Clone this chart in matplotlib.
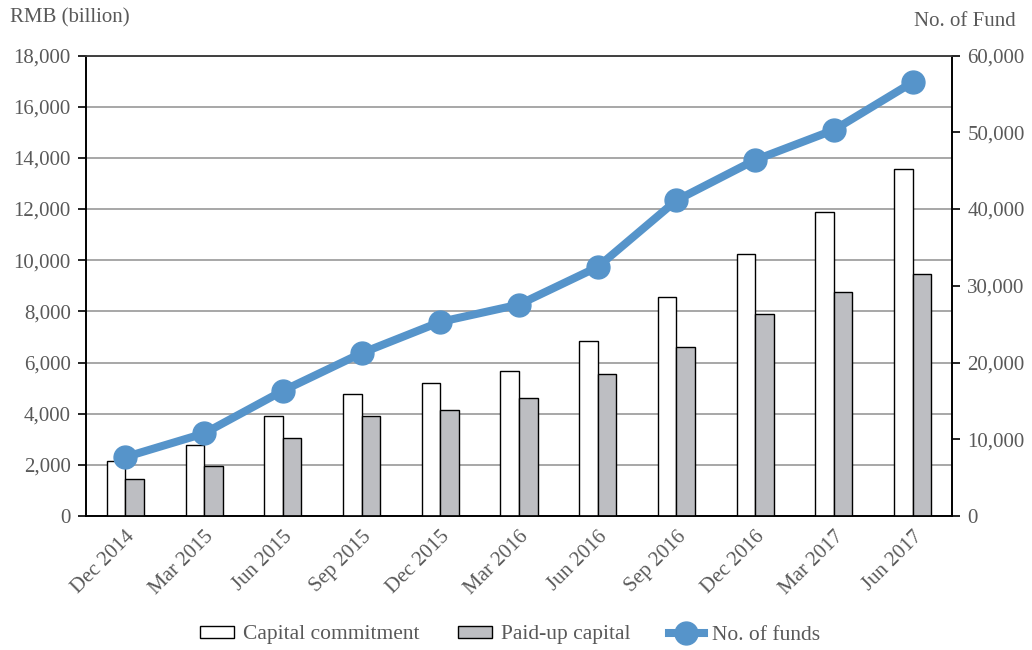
import matplotlib
matplotlib.use("Agg")
import matplotlib.pyplot as plt
import numpy as np
from matplotlib.ticker import FuncFormatter

categories = ["Dec 2014", "Mar 2015", "Jun 2015", "Sep 2015", "Dec 2015", "Mar 2016",
              "Jun 2016", "Sep 2016", "Dec 2016", "Mar 2017", "Jun 2017"]
capital_commitment = [2140, 2780, 3900, 4760, 5200, 5680, 6850, 8550, 10230, 11890, 13570]
paid_up_capital = [1460, 1970, 3030, 3900, 4140, 4600, 5570, 6620, 7900, 8760, 9470]
no_of_funds = [7680, 10760, 16310, 21220, 25290, 27550, 32450, 41130, 46390, 50300, 56510]

plt.rcParams['font.family'] = ['Liberation Serif', 'DejaVu Serif']
text_color = '#595959'
fs = 15

fig = plt.figure(figsize=(10.32, 6.5), dpi=100)
ax = fig.add_axes([86/1032, 1-516/650, (952-86)/1032, (516-55.5)/650])
ax2 = ax.twinx()

x = np.arange(len(categories))
w = 0.235
ax.bar(x - w/2, capital_commitment, w, color='white', edgecolor='black', linewidth=1.0,
       label='Capital commitment', zorder=3)
ax.bar(x + w/2, paid_up_capital, w, color='#BDBEC2', edgecolor='black', linewidth=1.0,
       label='Paid-up capital', zorder=3)
ax2.plot(x, no_of_funds, color='#5694CA', linewidth=5.8, marker='o', markersize=16.5,
         label='No. of funds', zorder=4)

ax.set_xlim(-0.5, len(categories) - 0.5)
ax.set_ylim(0, 18000)
ax.set_yticks(np.arange(0, 18001, 2000))
ax2.set_ylim(0, 60000)
ax2.set_yticks(np.arange(0, 60001, 10000))
fmt = FuncFormatter(lambda v, p: f"{int(v):,}")
ax.yaxis.set_major_formatter(fmt)
ax2.yaxis.set_major_formatter(fmt)

ax.yaxis.grid(True, color='#A0A0A0', linewidth=1.3, zorder=0)
ax.set_axisbelow(True)

for a in (ax, ax2):
    a.spines['top'].set_visible(True)
    a.spines['top'].set_color('#404040')
    for s in a.spines.values():
        s.set_linewidth(1.2)

ax.tick_params(axis='y', direction='out', length=6, width=1.2, colors='black',
               labelcolor=text_color, labelsize=fs, pad=5)
ax2.tick_params(axis='y', direction='out', length=6, width=1.2, colors='black',
                labelcolor=text_color, labelsize=fs, pad=5)
ax.tick_params(axis='x', length=0, labelcolor=text_color, labelsize=fs, pad=8)
ax.set_xticks(x)
ax.set_xticklabels(categories, rotation=45, ha='right', rotation_mode='anchor')

fig.text(10/1032, 1-18/650, 'RMB (billion)', fontsize=fs, color=text_color,
         ha='left', va='center')
fig.text(1016/1032, 1-22/650, 'No. of Fund', fontsize=fs, color=text_color,
         ha='right', va='center')

h1, l1 = ax.get_legend_handles_labels()
h2, l2 = ax2.get_legend_handles_labels()
fig.legend(h1 + h2, l1 + l2, loc='center', bbox_to_anchor=(510/1032, 1-635/650),
           ncol=3, frameon=False, fontsize=15.5, labelcolor=text_color,
           handlelength=1.6, handleheight=0.45, columnspacing=1.8, handletextpad=0.4)

fig.savefig('out.png', dpi=100)
